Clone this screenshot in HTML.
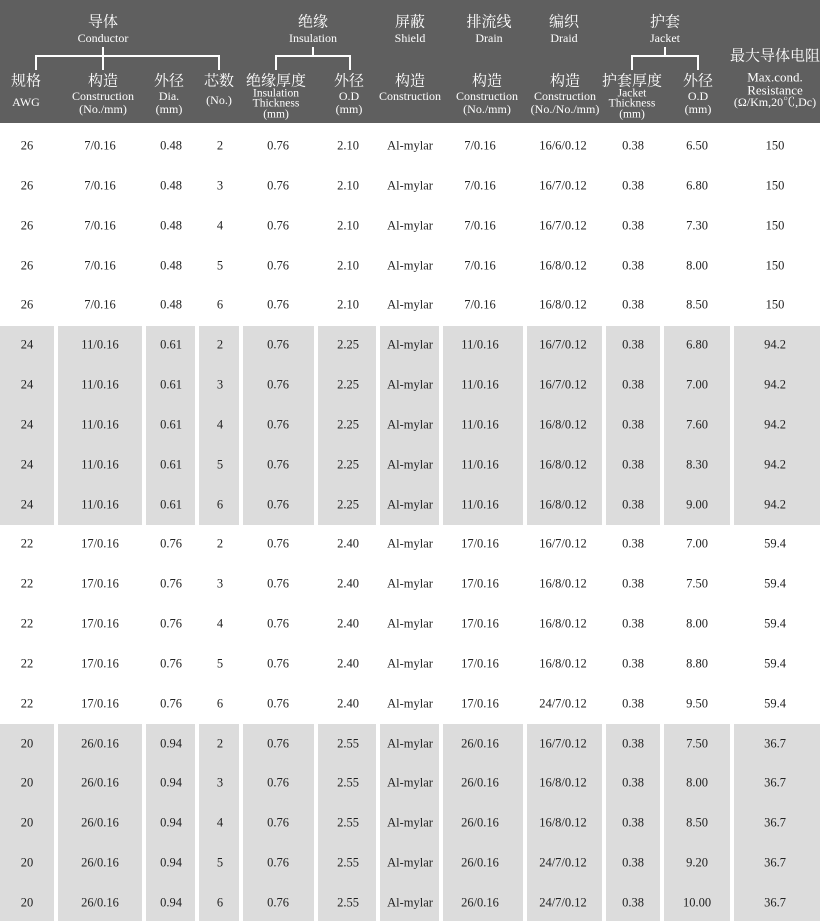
<!DOCTYPE html>
<html><head><meta charset="utf-8"><style>
body{margin:0;width:820px;height:921px;background:#fff;position:relative;overflow:hidden;font-family:"Liberation Serif","Noto Serif CJK SC",serif;}
.h{position:absolute;left:0;top:0;width:820px;height:123px;background:#5f5f5f;}
.t{position:absolute;transform:translate(-50%,-50%);white-space:nowrap;text-align:center;color:#fff;line-height:1;}
.cn{font-size:15px;}
.en{font-size:12px;}
.ln{position:absolute;background:#fff;}
.g{position:absolute;background:#dcdcdc;}
.c{position:absolute;transform:translate(-50%,-50%);font-size:12.5px;color:#222;white-space:nowrap;}
</style></head><body>
<div class="h"></div>
<div class="ln" style="left:35px;top:55px;width:185px;height:2px"></div>
<div class="ln" style="left:35px;top:55px;width:2px;height:15px"></div>
<div class="ln" style="left:102px;top:47px;width:2px;height:23px"></div>
<div class="ln" style="left:218px;top:55px;width:2px;height:15px"></div>
<div class="ln" style="left:275px;top:55px;width:76px;height:2px"></div>
<div class="ln" style="left:275px;top:55px;width:2px;height:15px"></div>
<div class="ln" style="left:312px;top:47px;width:2px;height:9px"></div>
<div class="ln" style="left:349px;top:55px;width:2px;height:15px"></div>
<div class="ln" style="left:631px;top:55px;width:68px;height:2px"></div>
<div class="ln" style="left:631px;top:55px;width:2px;height:15px"></div>
<div class="ln" style="left:664px;top:47px;width:2px;height:9px"></div>
<div class="ln" style="left:697px;top:55px;width:2px;height:15px"></div>
<div class="t cn" style="left:103px;top:23px">导体</div><div class="t en" style="left:103px;top:38px">Conductor</div>
<div class="t cn" style="left:313px;top:23px">绝缘</div><div class="t en" style="left:313px;top:38px">Insulation</div>
<div class="t cn" style="left:410px;top:23px">屏蔽</div><div class="t en" style="left:410px;top:38px">Shield</div>
<div class="t cn" style="left:489px;top:23px">排流线</div><div class="t en" style="left:489px;top:38px">Drain</div>
<div class="t cn" style="left:564px;top:23px">编织</div><div class="t en" style="left:564px;top:38px">Draid</div>
<div class="t cn" style="left:665px;top:23px">护套</div><div class="t en" style="left:665px;top:38px">Jacket</div>
<div class="t cn" style="left:26px;top:82px">规格</div><div class="t en" style="left:26px;top:102px">AWG</div>
<div class="t cn" style="left:103px;top:82px">构造</div><div class="t en" style="left:103px;top:96px">Construction</div><div class="t en" style="left:103px;top:109px">(No./mm)</div>
<div class="t cn" style="left:169px;top:82px">外径</div><div class="t en" style="left:169px;top:96px">Dia.</div><div class="t en" style="left:169px;top:109px">(mm)</div>
<div class="t cn" style="left:219px;top:82px">芯数</div><div class="t en" style="left:219px;top:100px">(No.)</div>
<div class="t cn" style="left:276px;top:82px">绝缘厚度</div><div class="t en" style="left:276px;top:94px;font-size:11.5px">Insulation</div><div class="t en" style="left:276px;top:104px;font-size:11.5px">Thickness</div><div class="t en" style="left:276px;top:115px;font-size:11.5px">(mm)</div>
<div class="t cn" style="left:349px;top:82px">外径</div><div class="t en" style="left:349px;top:96px">O.D</div><div class="t en" style="left:349px;top:109px">(mm)</div>
<div class="t cn" style="left:410px;top:82px">构造</div><div class="t en" style="left:410px;top:96px">Construction</div>
<div class="t cn" style="left:487px;top:82px">构造</div><div class="t en" style="left:487px;top:96px">Construction</div><div class="t en" style="left:487px;top:109px">(No./mm)</div>
<div class="t cn" style="left:565px;top:82px">构造</div><div class="t en" style="left:565px;top:96px">Construction</div><div class="t en" style="left:565px;top:109px">(No./No./mm)</div>
<div class="t cn" style="left:632px;top:82px">护套厚度</div><div class="t en" style="left:632px;top:94px;font-size:11.5px">Jacket</div><div class="t en" style="left:632px;top:104px;font-size:11.5px">Thickness</div><div class="t en" style="left:632px;top:115px;font-size:11.5px">(mm)</div>
<div class="t cn" style="left:698px;top:82px">外径</div><div class="t en" style="left:698px;top:96px">O.D</div><div class="t en" style="left:698px;top:109px">(mm)</div>
<div class="t cn" style="left:775px;top:57px">最大导体电阻</div><div class="t en" style="left:775px;top:77px;font-size:13px">Max.cond.</div><div class="t en" style="left:775px;top:90px;font-size:13px">Resistance</div><div class="t en" style="left:775px;top:102px">(Ω/Km,20℃,Dc)</div>
<div id="body"></div>
<script>
var cols=[[0,54],[58,142],[146,195],[199,239],[243,314],[318,376],[380,439],[443,523],[527,602],[606,660],[664,730],[734,820]];
var cx=[27,100,171,220,278,348,410,480,563,633,697,775];
var g={26:["7/0.16","0.48","2.10","7/0.16","150",["16/6/0.12","16/7/0.12","16/7/0.12","16/8/0.12","16/8/0.12"],["6.50","6.80","7.30","8.00","8.50"]],
24:["11/0.16","0.61","2.25","11/0.16","94.2",["16/7/0.12","16/7/0.12","16/8/0.12","16/8/0.12","16/8/0.12"],["6.80","7.00","7.60","8.30","9.00"]],
22:["17/0.16","0.76","2.40","17/0.16","59.4",["16/7/0.12","16/8/0.12","16/8/0.12","16/8/0.12","24/7/0.12"],["7.00","7.50","8.00","8.80","9.50"]],
20:["26/0.16","0.94","2.55","26/0.16","36.7",["16/7/0.12","16/8/0.12","16/8/0.12","24/7/0.12","24/7/0.12"],["7.50","8.00","8.50","9.20","10.00"]]};
var h='',awgs=[26,24,22,20];
[[326,525],[724,921]].forEach(function(b){cols.forEach(function(c){h+='<div class="g" style="left:'+c[0]+'px;top:'+b[0]+'px;width:'+(c[1]-c[0])+'px;height:'+(b[1]-b[0])+'px"></div>';});});
for(var i=0;i<20;i++){var a=awgs[Math.floor(i/5)],k=i%5,d=g[a];var y=146+39.84*i;
var v=[a,d[0],d[1],k+2,"0.76",d[2],"Al-mylar",d[3],d[5][k],"0.38",d[6][k],d[4]];
v.forEach(function(t,j){h+='<div class="c" style="left:'+cx[j]+'px;top:'+y+'px">'+t+'</div>';});}
document.getElementById('body').innerHTML=h;
</script>
</body></html>
